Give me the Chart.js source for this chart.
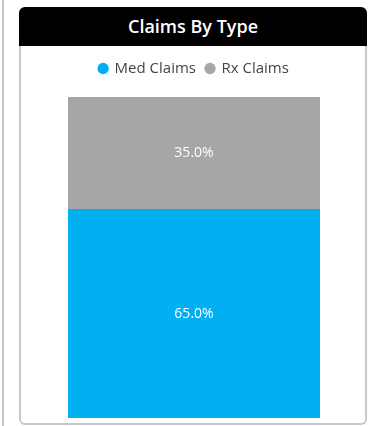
<!DOCTYPE html>
<html>
<head>
<meta charset="utf-8">
<script src="https://cdn.jsdelivr.net/npm/chart.js@4"></script>
<style>
  html, body { margin:0; padding:0; background:#fff; width:370px; height:426px; overflow:hidden; }
  #edge { position:absolute; left:2px; top:0; width:2px; height:426px; background:#c6c6c6; }
  #card { position:absolute; left:19px; top:7px; width:344px; height:416px; border:2px solid #c8c8c8; border-top:none; border-radius:6px; box-sizing:content-box; }
  #head { position:absolute; left:19px; top:7px; width:348px; height:39px; background:#000; border-radius:6px 6px 0 0;
          color:#fff; font-family:"Open Sans", sans-serif; font-weight:600; font-size:18px; line-height:38px; text-align:center; }
  #wrap { position:absolute; left:21px; top:46px; width:344px; height:376px; }
</style>
</head>
<body>
<div id="edge"></div>
<div id="card"></div>
<div id="head">Claims By Type</div>
<div id="wrap"><canvas id="c" width="344" height="376"></canvas></div>
<script>
const categories = ["Claims"];
const seriesNames = ["Med Claims", "Rx Claims"];
const medValues = [65.0];
const rxValues = [35.0];
const colors = ["#00B0F0", "#A6A6A6"];

const labelPlugin = {
  id: 'barLabels',
  afterDatasetsDraw(chart) {
    const ctx = chart.ctx;
    ctx.save();
    ctx.fillStyle = '#ffffff';
    ctx.font = '14px "Open Sans", sans-serif';
    ctx.textAlign = 'center';
    ctx.textBaseline = 'middle';
    chart.data.datasets.forEach((ds, i) => {
      chart.getDatasetMeta(i).data.forEach((bar, j) => {
        const p = bar.getProps(['x', 'y', 'base'], true);
        ctx.fillText(ds.data[j].toFixed(1) + '%', p.x, (p.y + p.base) / 2);
      });
    });
    ctx.restore();
  }
};
const legendSpace = {
  id: 'legendSpace',
  beforeInit(chart) {
    const orig = chart.legend.fit;
    chart.legend.fit = function() { orig.call(this); this.height += 11; };
  }
};

new Chart(document.getElementById('c'), {
  type: 'bar',
  data: {
    labels: categories,
    datasets: [
      { label: seriesNames[0], data: medValues, backgroundColor: colors[0] },
      { label: seriesNames[1], data: rxValues, backgroundColor: colors[1] }
    ]
  },
  options: {
    responsive: false,
    animation: false,
    layout: { padding: { left: 47, right: 45, top: 5, bottom: 4 } },
    datasets: { bar: { barPercentage: 1, categoryPercentage: 1, borderWidth: 0 } },
    scales: {
      x: { stacked: true, display: false },
      y: { stacked: true, display: false, min: 0, max: 100 }
    },
    plugins: {
      tooltip: { enabled: false },
      legend: {
        position: 'top',
        labels: {
          usePointStyle: true, pointStyle: 'circle', boxWidth: 8, boxHeight: 8,
          padding: 10, color: '#444', font: { family: '"Open Sans", sans-serif', size: 15 }
        }
      }
    }
  },
  plugins: [labelPlugin, legendSpace]
});
</script>
</body>
</html>
